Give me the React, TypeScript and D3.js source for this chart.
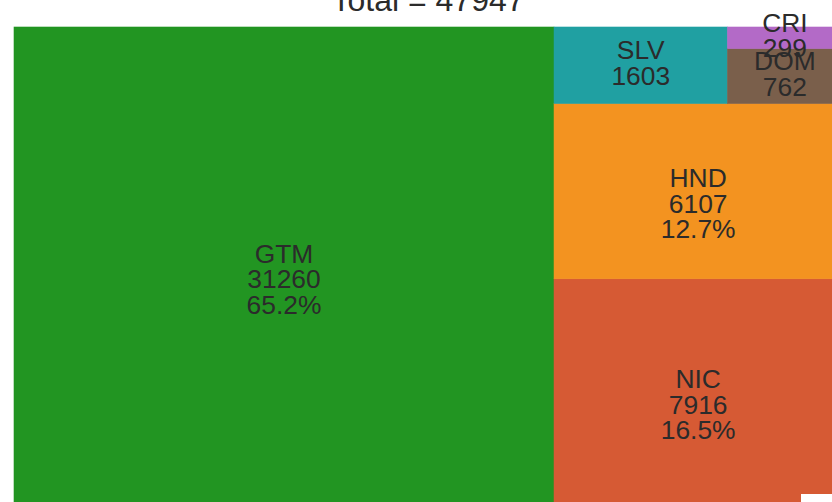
import React from "react";
import * as d3 from "d3";

const labels = ["GTM", "NIC", "HND", "SLV", "DOM", "CRI"];
const values = [31260, 7916, 6107, 1603, 762, 299];
const colors = ["#229522", "#d65a34", "#f39320", "#20a0a2", "#7a5f4b", "#b36ac7"];
const titlePrefix = "Total = ";

const W = 832;
const H = 502;
const X0 = 14, X1 = 842.3, Y0 = 27, Y1 = 506;
const FONT = "'Liberation Sans', Arial, Helvetica, sans-serif";
const TEXT = "#2b2b2b";

export default function App() {
  const total = d3.sum(values);
  const root = d3
    .hierarchy({ children: labels.map((l, i) => ({ label: l, value: values[i], color: colors[i] })) } as any)
    .sum((d: any) => d.value || 0)
    .sort((a, b) => (b.value || 0) - (a.value || 0));
  d3.treemap().size([1, 1]).tile(d3.treemapSquarify.ratio(1)).paddingInner(0)(root as any);
  const sx = d3.scaleLinear().domain([0, 1]).range([X0, X1]);
  const sy = d3.scaleLinear().domain([0, 1]).range([Y1, Y0]); // flipped
  const leaves = root.leaves() as any[];
  const fmtPct = (v: number) => (v / total * 100).toFixed(1) + "%";

  return (
    <svg width={W} height={H} style={{ position: "absolute", left: 0, top: 0 }}>
      <rect x={0} y={0} width={W} height={H} fill="#fff" />
      {leaves.map((n, i) => {
        const x0 = sx(n.x0), x1 = sx(n.x1);
        const yTop = sy(n.y1), yBot = sy(n.y0);
        return (
          <rect key={"r" + i} x={x0} y={yTop} width={x1 - x0} height={yBot - yTop} fill={n.data.color}
            stroke={n.data.color} strokeWidth={0.6} />
        );
      })}
      {leaves.map((n, i) => {
        const cx = (sx(n.x0) + sx(n.x1)) / 2;
        const cy = (sy(n.y1) + sy(n.y0)) / 2;
        const share = n.data.value / total;
        const lines = [n.data.label, String(n.data.value)];
        if (share >= 0.05) lines.push(fmtPct(n.data.value));
        const first = lines.length === 3 ? cy - 4 : cy - 6;
        return (
          <text key={"t" + i} x={cx} textAnchor="middle" fontFamily={FONT} fontSize={26.4} fill={TEXT}>
            {lines.map((l, j) => (
              <tspan key={j} x={cx} y={first + j * 25.5}>{l}</tspan>
            ))}
          </text>
        );
      })}
      <text x={428} y={10.5} textAnchor="middle" fontFamily={FONT} fontSize={32} fill={TEXT}>
        {titlePrefix + total}
      </text>
      <rect x={801} y={494} width={31} height={8} fill="#fff" />
    </svg>
  );
}
